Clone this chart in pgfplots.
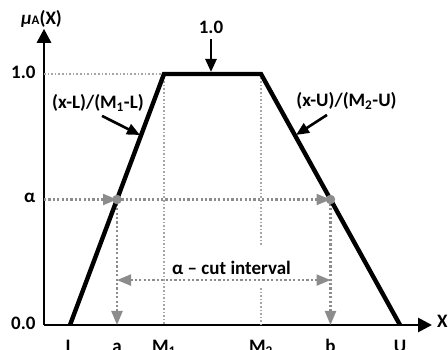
\documentclass[border=0pt]{standalone}
\usepackage{fontspec}
\setmainfont{Carlito}
\usepackage{pgfplots}
\pgfplotsset{compat=1.18}
\usetikzlibrary{arrows.meta}
\definecolor{guidegray}{HTML}{A6A6A6}
\definecolor{arrgray}{HTML}{8C8C8C}
\begin{document}
\begin{tikzpicture}
\begin{axis}[
  anchor=origin, at={(44pt,25pt)},
  x=1pt, y=251pt,
  xmin=0, xmax=388, ymin=0, ymax=1.18,
  axis lines=left,
  axis line style={line width=2.8pt, -{Triangle[length=14pt,width=14pt]}},
  xtick={26,73,120,217,286.5,356},
  xticklabels={L,a,M\textsubscript{1},M\textsubscript{2},b,U},
  ytick={0,0.5,1},
  yticklabels={0.0,α,1.0},
  major tick length=0pt,
  tick label style={font=\bfseries\fontsize{19}{21}\selectfont},
  xticklabel style={anchor=north, text height=12.5pt, text depth=3pt, inner sep=0pt, yshift=-15pt},
  yticklabel style={anchor=east, yshift=1.5pt, xshift=-5pt},
  clip=false,
]
% guide lines
\addplot[guidegray, line width=1.6pt, dash pattern=on 1.6pt off 2pt] coordinates {(0,1) (120,1)};
\addplot[guidegray, line width=1.6pt, dash pattern=on 1.6pt off 2pt] coordinates {(120,1) (120,0)};
\addplot[guidegray, line width=1.6pt, dash pattern=on 1.6pt off 2pt] coordinates {(217,1) (217,0.319)};
\addplot[guidegray, line width=1.6pt, dash pattern=on 1.6pt off 2pt] coordinates {(217,0.147) (217,0)};
% alpha level lines with arrows
\addplot[arrgray, line width=2.2pt, dash pattern=on 2.2pt off 2.2pt, -{Triangle[length=14pt,width=11pt]}] coordinates {(0,0.5) (73,0.5)};
\addplot[arrgray, line width=2.2pt, dash pattern=on 2.2pt off 2.2pt, -{Triangle[length=14pt,width=11pt]}] coordinates {(73,0.5) (286.5,0.5)};
\addplot[arrgray, line width=2.2pt, dash pattern=on 2.2pt off 2.2pt, -{Triangle[length=14pt,width=11pt]}] coordinates {(73,0.5) (73,0)};
\addplot[arrgray, line width=2.2pt, dash pattern=on 2.2pt off 2.2pt, -{Triangle[length=14pt,width=11pt]}] coordinates {(286.5,0.5) (286.5,0)};
\addplot[arrgray, line width=2.2pt, dash pattern=on 2.2pt off 2.2pt, {Triangle[length=14pt,width=11pt]}-{Triangle[length=14pt,width=11pt]}] coordinates {(73,0.179) (286.5,0.179)};
% trapezoid
\addplot[black, line width=4.4pt, line join=miter] coordinates {(26,0) (120,1) (217,1) (356,0)};
% alpha-cut points
\addplot[only marks, mark=*, mark size=4.5pt, mark options={fill=arrgray, draw=arrgray}] coordinates {(73,0.5) (286.5,0.5)};
% annotation arrows
\addplot[black, line width=2.6pt, -{Triangle[length=13pt,width=11pt]}] coordinates {(58,0.833) (96,0.757)};
\addplot[black, line width=2.6pt, -{Triangle[length=13pt,width=11pt]}] coordinates {(283,0.837) (252,0.757)};
\addplot[black, line width=2.6pt, -{Triangle[length=13pt,width=11pt]}] coordinates {(167,1.139) (167,1.008)};
% labels
\node[anchor=base, inner sep=0pt, font=\bfseries\fontsize{19}{21}\selectfont] at (axis cs:54,0.861) {(x-L)/(M\textsubscript{1}-L)};
\node[anchor=base, inner sep=0pt, font=\bfseries\fontsize{19}{21}\selectfont] at (axis cs:302.5,0.869) {(x-U)/(M\textsubscript{2}-U)};
\node[anchor=base, inner sep=0pt, font=\bfseries\fontsize{19}{21}\selectfont] at (axis cs:167,1.163) {1.0};
\node[anchor=base, inner sep=0pt, font=\bfseries\fontsize{19}{21}\selectfont] at (axis cs:187.5,0.203) {α – cut interval};
\node[anchor=base west, inner sep=0pt, font=\bfseries\fontsize{19}{21}\selectfont] at (axis cs:-23,1.199) {{\itshape μ}{\fontsize{13}{13}\selectfont A}(X)};
\node[anchor=base west, inner sep=0pt, font=\bfseries\fontsize{19}{21}\selectfont] at (axis cs:393,-0.008) {X};
\end{axis}
\pgfresetboundingbox
\path (0,0) rectangle (448pt,350pt);
\end{tikzpicture}
\end{document}
